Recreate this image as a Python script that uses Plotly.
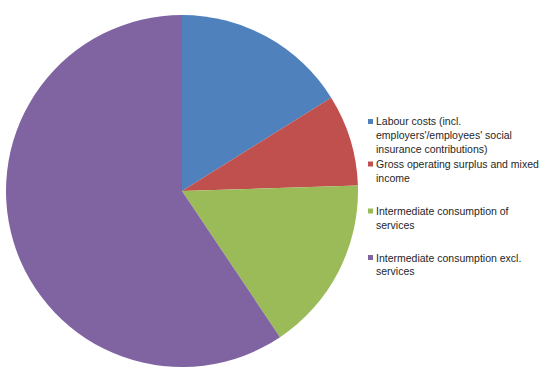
import plotly.graph_objects as go

labels = [
    "Labour costs (incl.<br>employers'/employees' social<br>insurance contributions)",
    "Gross operating surplus and mixed<br>income",
    "Intermediate consumption of<br>services",
    "Intermediate consumption excl.<br>services",
]
values = [16.1, 8.4, 16.1, 59.4]
colors = ["#4F81BD", "#C0504D", "#9BBB59", "#8064A2"]

W, H = 541, 369
cx, cy, r = 182, 191, 176

fig = go.Figure(go.Pie(
    labels=labels,
    values=values,
    marker=dict(colors=colors, line=dict(width=0)),
    sort=False,
    direction="clockwise",
    rotation=0,
    textinfo="none",
    hoverinfo="label+percent",
    showlegend=False,
    domain=dict(x=[(cx - r) / W, (cx + r) / W], y=[(H - cy - r) / H, (H - cy + r) / H]),
))

# legend drawn as annotations + squares
entry_y = [121.5, 164, 211, 257.5]
line_h = 13.8
sq_x0, sq_x1 = 368, 373
text_x = 374
shapes = []
annotations = []
for lab, col, y0 in zip(labels, colors, entry_y):
    shapes.append(dict(type="rect", xref="paper", yref="paper",
                       x0=sq_x0 / W, x1=sq_x1 / W,
                       y0=(H - (y0 - 2.5)) / H, y1=(H - (y0 + 2.5)) / H,
                       fillcolor=col, line=dict(width=0)))
    for i, ln in enumerate(lab.split("<br>")):
        yc = y0 + i * line_h
        annotations.append(dict(text=ln, xref="paper", yref="paper",
                                x=text_x / W, y=(H - yc) / H,
                                xanchor="left", yanchor="middle",
                                showarrow=False,
                                font=dict(family="Liberation Sans, Arial", size=10.5, color="#262626")))

fig.update_layout(
    width=W, height=H,
    margin=dict(l=0, r=0, t=0, b=0),
    paper_bgcolor="white",
    plot_bgcolor="white",
    shapes=shapes,
    annotations=annotations,
)

fig.write_html("out.html")
